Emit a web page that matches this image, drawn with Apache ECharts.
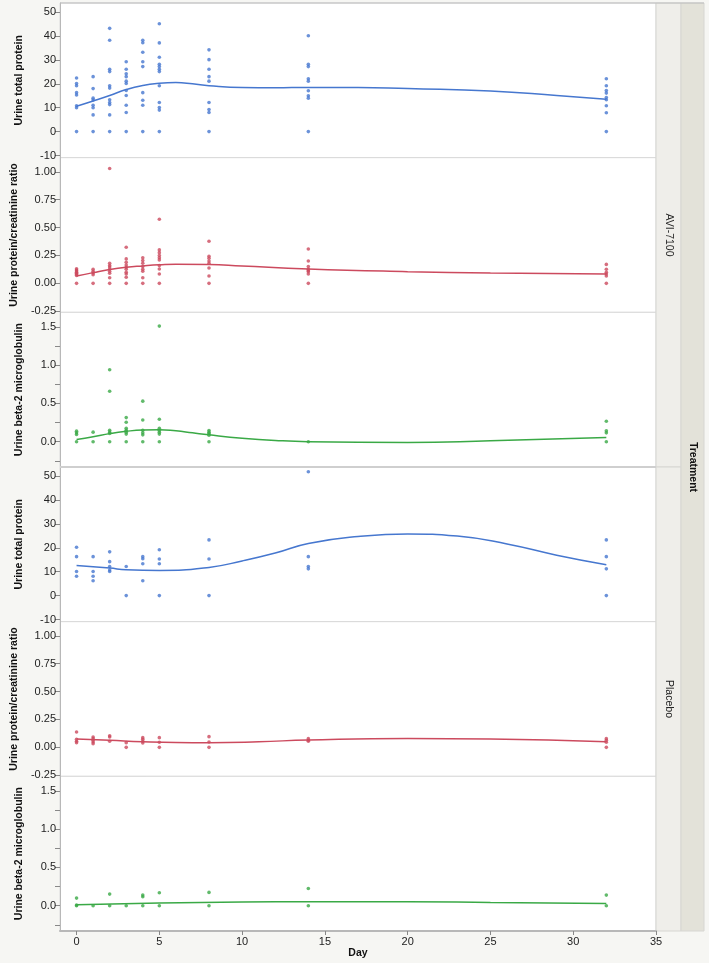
<!DOCTYPE html>
<html>
<head>
<meta charset="utf-8">
<script src="https://cdn.jsdelivr.net/npm/echarts@6/dist/echarts.min.js"></script>
<style>
html,body{margin:0;padding:0;background:#f6f6f3;}
#chart{width:709px;height:963px;}
</style>
</head>
<body>
<div id="chart"></div>
<script>
// ---------- DATA ----------
const DAYS = [0, 1, 2, 3, 4, 5, 8, 14, 32];
const X_TICKS = [0, 5, 10, 15, 20, 25, 30, 35];

// AVI-7100 : urine total protein (values per day, same order as DAYS)
const aviProtein = [
  [22.4, 20.1, 19.2, 16.3, 15.3, 10.8, 10, 0],
  [23, 18, 14, 13.2, 11, 10, 7, 0],
  [43.2, 38.2, 26.1, 25.1, 19.2, 18.2, 13.3, 12.2, 11.3, 7, 0],
  [29.2, 26.1, 24.2, 23, 21.1, 20.1, 17.2, 15.1, 11, 8, 0],
  [38.2, 37.2, 33.2, 29.2, 27.2, 16.3, 13.1, 11, 0],
  [45.1, 37.1, 31.1, 28.2, 27.2, 26.1, 25.1, 19.2, 12.2, 10.1, 9, 0],
  [34.2, 30.1, 26.1, 23, 21.1, 12.2, 9.2, 8, 0],
  [40.1, 28.2, 27.2, 22.1, 21.1, 17.1, 15, 14, 0],
  [22.1, 19.2, 17.2, 16.1, 14.3, 13.3, 10.8, 7.9, 0]
];
const aviProteinFitDays = [0, 1, 2, 3, 4, 5, 6, 7, 8, 10, 12, 14, 17, 20, 25, 29, 32];
const aviProteinFit = [10.6, 12.8, 15.1, 17.6, 19.3, 20.2, 20.5, 20.0, 19.2, 18.4, 18.3, 18.5, 18.5, 18.0, 17.0, 15.1, 13.5];

// AVI-7100 : urine protein/creatinine ratio
const aviRatio = [
  [0.13, 0.12, 0.11, 0.10, 0.09, 0.08, 0.07, 0],
  [0.126, 0.108, 0.093, 0.078, 0],
  [1.03, 0.18, 0.16, 0.147, 0.129, 0.108, 0.09, 0.05, 0],
  [0.323, 0.219, 0.189, 0.165, 0.144, 0.126, 0.10, 0.084, 0.054, 0],
  [0.23, 0.204, 0.18, 0.15, 0.126, 0.108, 0.05, 0],
  [0.575, 0.30, 0.275, 0.25, 0.23, 0.21, 0.159, 0.129, 0.084, 0],
  [0.377, 0.243, 0.225, 0.2, 0.18, 0.138, 0.066, 0],
  [0.308, 0.2, 0.15, 0.126, 0.114, 0.105, 0.084, 0],
  [0.17, 0.126, 0.099, 0.084, 0.066, 0]
];
const aviRatioFitDays = [0, 1, 2, 3, 4, 5, 6, 8, 10, 14, 20, 25, 32];
const aviRatioFit = [0.066, 0.096, 0.124, 0.144, 0.156, 0.166, 0.172, 0.170, 0.156, 0.129, 0.105, 0.092, 0.084];

// AVI-7100 : urine beta-2 microglobulin
const aviB2m = [
  [0.138, 0.116, 0.095, 0],
  [0.125, 0],
  [0.94, 0.66, 0.15, 0.125, 0.108, 0],
  [0.315, 0.254, 0.177, 0.15, 0.125, 0.1, 0],
  [0.53, 0.284, 0.15, 0.116, 0.09, 0],
  [1.51, 0.293, 0.177, 0.15, 0.125, 0.1, 0],
  [0.147, 0.125, 0.108, 0.086, 0],
  [0],
  [0.267, 0.142, 0.116, 0]
];
const aviB2mFitDays = [0, 1, 2, 3, 4, 5, 6, 7, 8, 10, 12, 14, 20, 25, 32];
const aviB2mFit = [0.03, 0.065, 0.106, 0.136, 0.154, 0.158, 0.142, 0.116, 0.09, 0.047, 0.017, 0.0, -0.01, 0.013, 0.056];

// Placebo : urine total protein
const plaProtein = [
  [20.2, 16.3, 10.1, 8.1],
  [16.3, 10.1, 8.1, 6.2],
  [18.3, 14.2, 12.2, 10.7, 10.1],
  [12.2, 0],
  [16.3, 15.4, 13.3, 6.2],
  [19.2, 15.3, 13.3, 0],
  [23.3, 15.3, 0],
  [51.8, 16.3, 12.2, 11.2],
  [23.3, 16.3, 11.2, 0]
];
const plaProteinFitDays = [0, 2, 3, 5, 8, 10, 12, 14, 17, 20, 23, 26, 29, 32];
const plaProteinFit = [12.6, 11.5, 10.8, 10.5, 11.8, 14.5, 17.8, 21.8, 24.7, 25.8, 24.9, 21.6, 16.9, 12.9];

// Placebo : urine protein/creatinine ratio
const plaRatio = [
  [0.137, 0.072, 0.054, 0.042],
  [0.093, 0.078, 0.063, 0.048, 0.033],
  [0.104, 0.093, 0.054],
  [0.042, 0],
  [0.087, 0.072, 0.054, 0.039],
  [0.087, 0.045, 0],
  [0.096, 0.048, 0],
  [0.078, 0.063, 0.054],
  [0.078, 0.063, 0.045, 0]
];
const plaRatioFitDays = [0, 2, 4, 6, 8, 11, 14, 20, 25, 32];
const plaRatioFit = [0.075, 0.063, 0.05, 0.043, 0.042, 0.05, 0.066, 0.08, 0.075, 0.05];

// Placebo : urine beta-2 microglobulin
const plaB2m = [
  [0.1, 0.01, 0],
  [0],
  [0.152, 0],
  [0],
  [0.139, 0.117, 0],
  [0.17, 0],
  [0.174, 0],
  [0.226, 0],
  [0.139, 0]
];
const plaB2mFitDays = [0, 5, 10, 14, 20, 25, 32];
const plaB2mFit = [0.013, 0.035, 0.048, 0.052, 0.052, 0.043, 0.03];

// Axis tick labels
const proteinTicks = [-10, 0, 10, 20, 30, 40, 50];
const ratioTicks = [-0.25, 0, 0.25, 0.5, 0.75, 1.0];
const b2mLabels = [0, 0.5, 1.0, 1.5];
const b2mTicks = [-0.25, 0, 0.25, 0.5, 0.75, 1.0, 1.25, 1.5];

const TITLES = ['Urine total protein', 'Urine protein/creatinine ratio', 'Urine beta-2 microglobulin'];
const GROUPS = ['AVI-7100', 'Placebo'];
const STRIP_TITLE = 'Treatment';
const X_TITLE = 'Day';

// ---------- BUILD ----------
const COLORS = ['#4677cf', '#cc4a5e', '#3aa946'];
const FONT = 'Liberation Sans, Arial, sans-serif';

function toPoints(byDay) {
  const out = [];
  byDay.forEach((vals, i) => vals.forEach(v => out.push([DAYS[i], v])));
  return out;
}
function zip(xs, ys) { return xs.map((x, i) => [x, ys[i]]); }

const panels = [
  { pts: aviProtein, fx: aviProteinFitDays, fy: aviProteinFit, kind: 0 },
  { pts: aviRatio, fx: aviRatioFitDays, fy: aviRatioFit, kind: 1 },
  { pts: aviB2m, fx: aviB2mFitDays, fy: aviB2mFit, kind: 2 },
  { pts: plaProtein, fx: plaProteinFitDays, fy: plaProteinFit, kind: 0 },
  { pts: plaRatio, fx: plaRatioFitDays, fy: plaRatioFit, kind: 1 },
  { pts: plaB2m, fx: plaB2mFitDays, fy: plaB2mFit, kind: 2 }
];

const kindAxis = [
  { min: -10.9, max: 53.8, labels: proteinTicks, ticks: proteinTicks, fmt: v => String(Math.round(v)) },
  { min: -0.26, max: 1.127, labels: ratioTicks, ticks: ratioTicks, fmt: v => v.toFixed(2) },
  { min: -0.33, max: 1.69, labels: b2mLabels, ticks: b2mTicks, fmt: v => v.toFixed(1) }
];

const PL = 60, PR = 656, PT = 3, PB = 931;
const PH = (PB - PT) / 6;

const grids = [], xAxes = [], yAxes = [], series = [];
panels.forEach((p, i) => {
  grids.push({
    left: PL, width: PR - PL, top: PT + i * PH, height: PH,
    show: true, backgroundColor: '#ffffff', borderColor: '#dadada', borderWidth: 1
  });
  const last = i === panels.length - 1;
  xAxes.push({
    type: 'value', gridIndex: i, min: -1, max: 35,
    axisLine: { show: last, onZero: false, lineStyle: { color: '#b8b8b8', width: 2 } },
    axisTick: { show: last, length: 4, customValues: X_TICKS, lineStyle: { color: '#888' } },
    axisLabel: { show: last, customValues: X_TICKS, color: '#222', fontSize: 11, fontFamily: FONT, margin: 5 },
    splitLine: { show: false },
    name: last ? X_TITLE : '', nameLocation: 'middle', nameGap: 17,
    nameTextStyle: { fontWeight: 'bold', fontSize: 10.5, color: '#111', fontFamily: FONT }
  });
  const ka = kindAxis[p.kind];
  yAxes.push({
    type: 'value', gridIndex: i, min: ka.min, max: ka.max,
    axisLine: { show: true, onZero: false, lineStyle: { color: '#b8b8b8' } },
    axisTick: { show: true, length: 5, customValues: ka.ticks, lineStyle: { color: '#888' } },
    axisLabel: { customValues: ka.labels, formatter: ka.fmt, color: '#222', fontSize: 11, fontFamily: FONT, margin: 4 },
    splitLine: { show: false },
    name: TITLES[p.kind], nameLocation: 'middle', nameGap: 35,
    nameTextStyle: { fontWeight: 'bold', fontSize: 10.5, color: '#111', fontFamily: FONT }
  });
  series.push({
    type: 'scatter', xAxisIndex: i, yAxisIndex: i, data: toPoints(p.pts),
    symbolSize: 3.6, itemStyle: { color: COLORS[p.kind] }, clip: false, silent: true
  });
  series.push({
    type: 'line', xAxisIndex: i, yAxisIndex: i, data: zip(p.fx, p.fy),
    showSymbol: false, smooth: 0.5, lineStyle: { color: COLORS[p.kind], width: 1.5 }, silent: true
  });
});

const half = (PB - PT) / 2;
const graphic = [
  { type: 'rect', shape: { x: PR, y: PT, width: 25, height: half }, style: { fill: '#efeeea', stroke: '#d6d6d2', lineWidth: 1 } },
  { type: 'rect', shape: { x: PR, y: PT + half, width: 25, height: half }, style: { fill: '#efeeea', stroke: '#d6d6d2', lineWidth: 1 } },
  { type: 'rect', shape: { x: PR + 25, y: PT, width: 23, height: PB - PT }, style: { fill: '#e3e2d9', stroke: '#d6d6d2', lineWidth: 1 } },
  { type: 'text', x: PR + 12.5, y: PT + half / 2, rotation: -Math.PI / 2,
    style: { text: GROUPS[0], fill: '#222', font: '10.5px ' + FONT, align: 'center', verticalAlign: 'middle' } },
  { type: 'text', x: PR + 12.5, y: PT + half * 1.5, rotation: -Math.PI / 2,
    style: { text: GROUPS[1], fill: '#222', font: '10.5px ' + FONT, align: 'center', verticalAlign: 'middle' } },
  { type: 'text', x: PR + 36.5, y: PT + half, rotation: -Math.PI / 2,
    style: { text: STRIP_TITLE, fill: '#111', font: 'bold 10.5px ' + FONT, align: 'center', verticalAlign: 'middle' } },
  { type: 'line', shape: { x1: PL, y1: PT + half, x2: PR, y2: PT + half }, style: { stroke: '#cfcfcf', lineWidth: 2 }, z: 10 },
  { type: 'line', shape: { x1: PL, y1: PT, x2: PR + 48, y2: PT }, style: { stroke: '#bdbdbd', lineWidth: 1 }, z: 10 }
];

const chart = echarts.init(document.getElementById('chart'), null, { renderer: 'canvas' });
chart.setOption({
  backgroundColor: '#f6f6f3',
  animation: false,
  grid: grids,
  xAxis: xAxes,
  yAxis: yAxes,
  series: series,
  graphic: graphic
});
</script>
</body>
</html>
